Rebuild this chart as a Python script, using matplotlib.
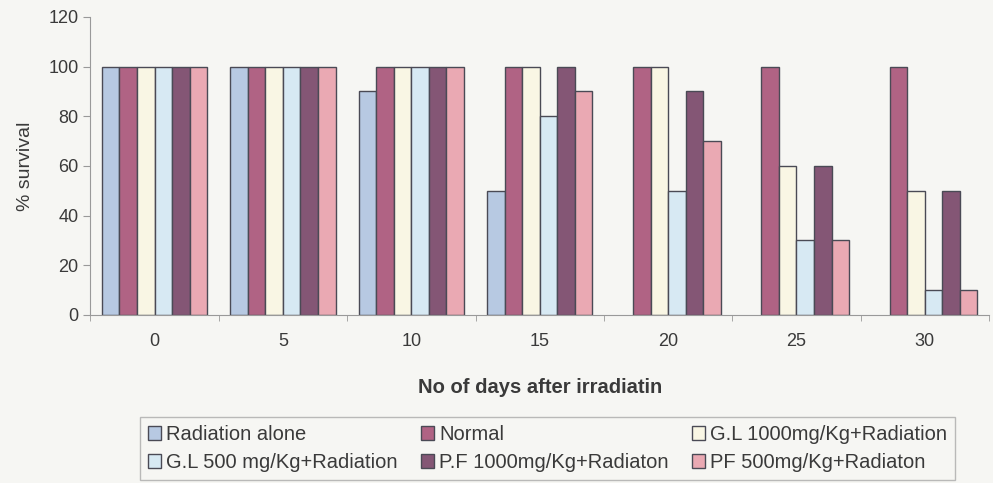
import matplotlib.pyplot as plt
import numpy as np

# days after irradiation and % survival per treatment group
days = ["0", "5", "10", "15", "20", "25", "30"]
radiation_alone = [100, 100, 90, 50, 0, 0, 0]
normal = [100, 100, 100, 100, 100, 100, 100]
gl_1000 = [100, 100, 100, 100, 100, 60, 50]
gl_500 = [100, 100, 100, 80, 50, 30, 10]
pf_1000 = [100, 100, 100, 100, 90, 60, 50]
pf_500 = [100, 100, 100, 90, 70, 30, 10]

series = [radiation_alone, normal, gl_1000, gl_500, pf_1000, pf_500]
labels = ["Radiation alone", "Normal", "G.L 1000mg/Kg+Radiation",
          "G.L 500 mg/Kg+Radiation", "P.F 1000mg/Kg+Radiaton",
          "PF 500mg/Kg+Radiaton"]
colors = ["#b7c9e2", "#b06384", "#f9f6e4", "#d7e9f3", "#845675", "#eaa9b3"]

bg = "#f6f6f3"
txt = "#3a3a3a"
plt.rcParams["font.family"] = ["Liberation Sans", "DejaVu Sans"]

fig = plt.figure(figsize=(9.93, 4.83), dpi=100, facecolor=bg)
ax = fig.add_axes([0.091, 0.348, 0.905, 0.617], facecolor=bg)

x = np.arange(len(days))
n = len(series)
group_w = 0.82
w = group_w / n
handles = []
for i, (vals, lab, c) in enumerate(zip(series, labels, colors)):
    bars = ax.bar(x - group_w / 2 + w * (i + 0.5), vals, width=w, color=c,
                  edgecolor="#4a4a55", linewidth=1.0, label=lab)
    # no outline for zero-survival bars
    for rect, v in zip(bars, vals):
        if v == 0:
            rect.set_visible(False)
    handles.append(bars)

ax.set_xlim(-0.5, len(days) - 0.5)
ax.set_ylim(0, 120)
ax.set_yticks(range(0, 121, 20))
ax.set_xticks(x)
ax.set_xticklabels(days)
ax.set_xticks(np.arange(-0.5, len(days), 1), minor=True)
ax.tick_params(axis="x", which="major", length=0, pad=13, labelsize=13,
               colors=txt)
ax.tick_params(axis="x", which="minor", length=4, color="#999999")
ax.tick_params(axis="y", length=5, color="#999999", labelsize=13,
               labelcolor=txt)

for s in ["top", "right"]:
    ax.spines[s].set_visible(False)
ax.spines["left"].set_color("#999999")
ax.spines["bottom"].set_color("#999999")

ax.set_ylabel("% survival", fontsize=14, color=txt, labelpad=10)
ax.set_xlabel("No of days after irradiatin", fontsize=14.5, fontweight="bold",
              color=txt, labelpad=20)

# legend filled row by row, three columns
order = [0, 3, 1, 4, 2, 5]
leg = fig.legend([handles[k] for k in order], [labels[k] for k in order],
                 loc="lower left", bbox_to_anchor=(0.141, 0.006, 0.821, 0.124),
                 mode="expand", ncol=3, fontsize=14.5, frameon=True,
                 fancybox=False, handlelength=0.65, handleheight=0.65,
                 handletextpad=0.25, columnspacing=0.4, borderpad=0.4,
                 borderaxespad=0, labelspacing=0.45)
leg.get_frame().set_edgecolor("#aaaaaa")
leg.get_frame().set_facecolor(bg)
for t in leg.get_texts():
    t.set_color(txt)

fig.savefig("out.png", dpi=100, facecolor=bg)
